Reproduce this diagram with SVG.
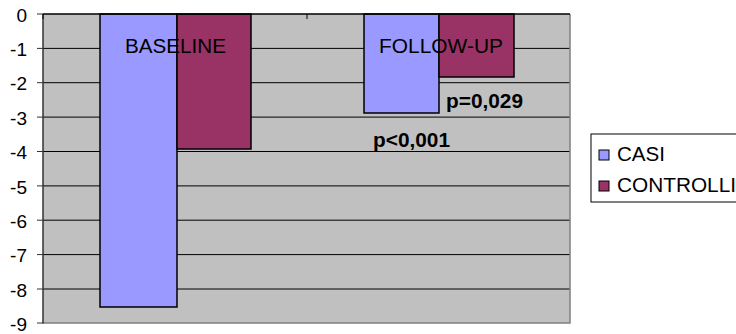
<svg xmlns="http://www.w3.org/2000/svg" width="736" height="334" viewBox="0 0 736 334">
<style>
text{font-family:"Liberation Sans",Arial,sans-serif;font-size:20px;fill:#000}
.ax{text-anchor:end;font-size:19px}
.b{font-weight:bold}
.grid{stroke:#000;stroke-width:1}
.casi{fill:#9999FF;stroke:#000;stroke-width:1.5}
.ctrl{fill:#993366;stroke:#000;stroke-width:1.5}
</style>
<rect width="736" height="334" fill="#fff"/>
<g id="plot">
<rect x="43" y="14" width="527" height="309" fill="#C0C0C0"/>
<g class="grid">
<line x1="43" y1="48.4" x2="570" y2="48.4"/>
<line x1="43" y1="82.7" x2="570" y2="82.7"/>
<line x1="43" y1="117.1" x2="570" y2="117.1"/>
<line x1="43" y1="151.5" x2="570" y2="151.5"/>
<line x1="43" y1="185.9" x2="570" y2="185.9"/>
<line x1="43" y1="220.2" x2="570" y2="220.2"/>
<line x1="43" y1="254.6" x2="570" y2="254.6"/>
<line x1="43" y1="289" x2="570" y2="289"/>
</g>
<path d="M570 14V323H43" fill="none" stroke="#808080" stroke-width="1.5"/>
</g>
<g id="axis">
<line x1="43" y1="14" x2="43" y2="323.5" stroke="#333" stroke-width="1.5"/>
<g stroke="#333" stroke-width="1">
<line x1="37" y1="14" x2="43" y2="14"/>
<line x1="37" y1="48.4" x2="43" y2="48.4"/>
<line x1="37" y1="82.7" x2="43" y2="82.7"/>
<line x1="37" y1="117.1" x2="43" y2="117.1"/>
<line x1="37" y1="151.5" x2="43" y2="151.5"/>
<line x1="37" y1="185.9" x2="43" y2="185.9"/>
<line x1="37" y1="220.2" x2="43" y2="220.2"/>
<line x1="37" y1="254.6" x2="43" y2="254.6"/>
<line x1="37" y1="289" x2="43" y2="289"/>
<line x1="37" y1="323" x2="43" y2="323"/>
</g>
<text class="ax" x="27" y="21.6">0</text>
<text class="ax" x="27" y="56">-1</text>
<text class="ax" x="27" y="90.3">-2</text>
<text class="ax" x="27" y="124.7">-3</text>
<text class="ax" x="27" y="159.1">-4</text>
<text class="ax" x="27" y="193.5">-5</text>
<text class="ax" x="27" y="227.8">-6</text>
<text class="ax" x="27" y="262.2">-7</text>
<text class="ax" x="27" y="296.6">-8</text>
<text class="ax" x="27" y="330.6">-9</text>
</g>
<g id="bars">
<rect id="baseline-casi" class="casi" x="100" y="14" width="77" height="293"/>
<rect id="baseline-controlli" class="ctrl" x="177" y="14" width="74" height="135"/>
<rect id="followup-casi" class="casi" x="364" y="14" width="75" height="99"/>
<rect id="followup-controlli" class="ctrl" x="439" y="14" width="75" height="63"/>
</g>
<g id="topaxis">
<line x1="43" y1="14" x2="570" y2="14" stroke="#000" stroke-width="1.5"/>
<g stroke="#000" stroke-width="1">
<line x1="43" y1="14" x2="43" y2="19"/>
<line x1="307" y1="14" x2="307" y2="19"/>
</g>
</g>
<g id="labels">
<text x="175.5" y="53" text-anchor="middle" textLength="101" lengthAdjust="spacingAndGlyphs">BASELINE</text>
<text x="441" y="53" text-anchor="middle" textLength="124" lengthAdjust="spacingAndGlyphs">FOLLOW-UP</text>
<text class="b" x="446" y="108" textLength="77" lengthAdjust="spacingAndGlyphs">p=0,029</text>
<text class="b" x="373" y="147" textLength="77" lengthAdjust="spacingAndGlyphs">p&lt;0,001</text>
</g>
<g id="legend">
<rect x="591" y="134" width="150" height="68" fill="#fff" stroke="#000" stroke-width="1"/>
<rect x="599" y="150" width="10" height="10" fill="#9999FF" stroke="#000" stroke-width="1"/>
<text x="617" y="161" textLength="48" lengthAdjust="spacingAndGlyphs">CASI</text>
<rect x="599" y="181" width="10" height="10" fill="#993366" stroke="#000" stroke-width="1"/>
<text x="617" y="192" textLength="119" lengthAdjust="spacingAndGlyphs">CONTROLLI</text>
</g>
</svg>
